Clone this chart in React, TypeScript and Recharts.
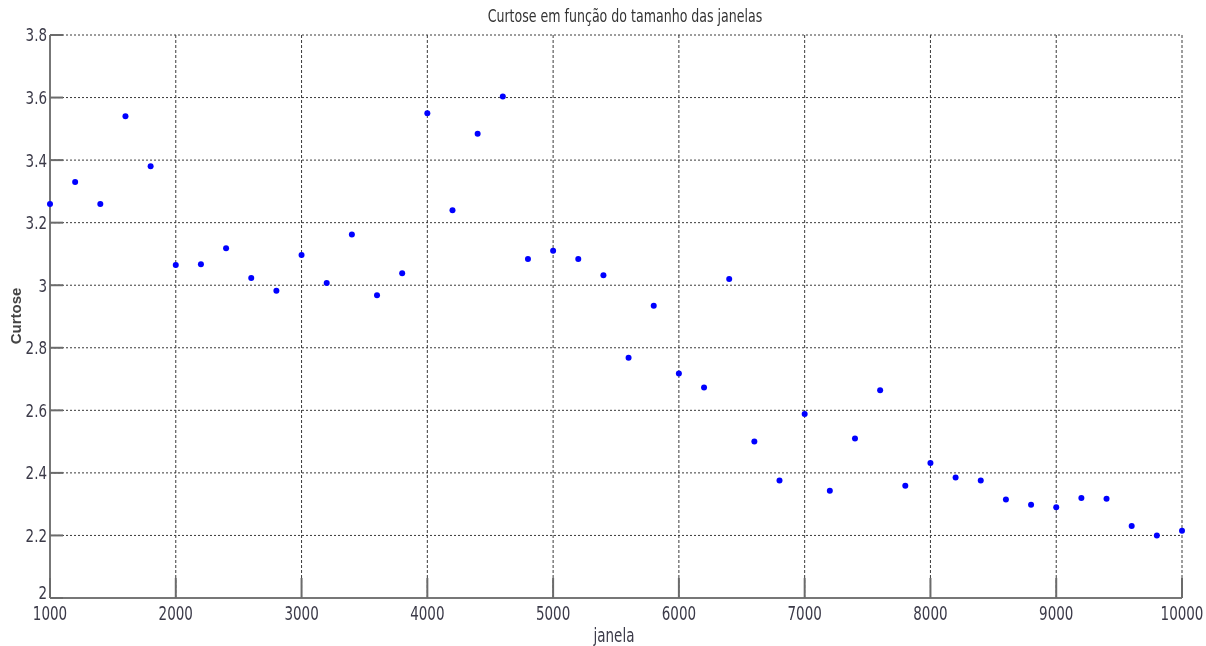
import {
  CartesianGrid,
  Scatter,
  ScatterChart,
  XAxis,
  YAxis,
} from "recharts";

const windowSizes = [
  1000, 1200, 1400, 1600, 1800, 2000, 2200, 2400, 2600, 2800, 3000, 3200,
  3400, 3600, 3800, 4000, 4200, 4400, 4600, 4800, 5000, 5200, 5400, 5600,
  5800, 6000, 6200, 6400, 6600, 6800, 7000, 7200, 7400, 7600, 7800, 8000,
  8200, 8400, 8600, 8800, 9000, 9200, 9400, 9600, 9800, 10000,
];

const kurtosis = [
  3.26, 3.33, 3.26, 3.54, 3.38, 3.065, 3.067, 3.118, 3.023, 2.982, 3.097,
  3.007, 3.162, 2.968, 3.038, 3.55, 3.24, 3.484, 3.603, 3.084, 3.11, 3.084,
  3.032, 2.768, 2.934, 2.718, 2.673, 3.02, 2.5, 2.376, 2.588, 2.343, 2.51,
  2.664, 2.359, 2.432, 2.385, 2.376, 2.315, 2.298, 2.29, 2.32, 2.317, 2.23,
  2.2, 2.215,
];

const xTicks = [1000, 2000, 3000, 4000, 5000, 6000, 7000, 8000, 9000, 10000];
const yTicks = [2, 2.2, 2.4, 2.6, 2.8, 3, 3.2, 3.4, 3.6, 3.8];

const data = windowSizes.map((janela, i) => ({ janela, curtose: kurtosis[i] }));

const narrow = "'Liberation Sans Narrow', 'Arial Narrow', 'DejaVu Sans Condensed', sans-serif";
const textColor = "#3b3a48";

function YTick({ x, y, payload }: any) {
  // the lowest label sits a little higher so it clears the x labels
  const lift = payload.value === yTicks[0] ? 5 : 0;
  return (
    <g>
      <line x1={x} y1={y} x2={x + 13} y2={y} stroke="#6b6b6b" strokeWidth={2} />
      <g transform={`translate(${x - 3},${y - lift}) scale(1,1.2)`}>
        <text x={0} y={0} dy="0.36em" textAnchor="end" fontFamily={narrow} fontSize={15} fill={textColor}>
          {String(payload.value)}
        </text>
      </g>
    </g>
  );
}

function XTick({ x, y, payload }: any) {
  return (
    <g>
      <line x1={x} y1={y} x2={x} y2={y - 20} stroke="#6b6b6b" strokeWidth={2} />
      <g transform={`translate(${x},${y + 15}) scale(1,1.25)`}>
        <text x={0} y={0} dy="0.36em" textAnchor="middle" fontFamily={narrow} fontSize={15} fill={textColor}>
          {String(payload.value)}
        </text>
      </g>
    </g>
  );
}

function Dot({ cx, cy }: any) {
  return <circle cx={cx} cy={cy} r={3} fill="#0000ff" />;
}

export default function App() {
  return (
    <div style={{ position: "fixed", left: 0, top: 0, width: 1206, height: 646, background: "#fff" }}>
      <div
        style={{
          position: "absolute",
          left: 0,
          width: 1206,
          top: 8,
          paddingLeft: 22,
          textAlign: "center",
          fontFamily: narrow,
          fontSize: 14,
          color: "#333",
          transform: "scaleY(1.2)",
        }}
      >
        Curtose em função do tamanho das janelas
      </div>
      <div
        style={{
          position: "absolute",
          left: 15,
          top: 316,
          transform: "translate(-50%, -50%) rotate(-90deg)",
          fontFamily: "'Liberation Sans', Arial, sans-serif",
          fontWeight: "bold",
          fontSize: 15,
          color: "#444",
          whiteSpace: "nowrap",
        }}
      >
        Curtose
      </div>
      <div
        style={{
          position: "absolute",
          left: 614,
          top: 636,
          transform: "translate(-50%, -50%) scaleY(1.25)",
          fontFamily: narrow,
          fontSize: 15,
          color: textColor,
          whiteSpace: "nowrap",
        }}
      >
        janela
      </div>
      <ScatterChart
        width={1206}
        height={646}
        margin={{ top: 35, right: 24, bottom: 0, left: 0 }}
        style={{ position: "absolute", left: 0, top: 0 }}
      >
        <CartesianGrid horizontal={true} vertical={false} stroke="#3a3a3a" strokeDasharray="2 2" />
        <CartesianGrid horizontal={false} vertical={true} stroke="#3a3a3a" strokeDasharray="3 2" />
        <XAxis
          type="number"
          dataKey="janela"
          domain={[1000, 10000]}
          ticks={xTicks}
          height={48}
          tickSize={0}
          tickMargin={0}
          tickLine={false}
          axisLine={{ stroke: "#777", strokeWidth: 2 }}
          tick={<XTick />}
          interval={0}
        />
        <YAxis
          type="number"
          dataKey="curtose"
          domain={[2, 3.8]}
          ticks={yTicks}
          width={50}
          tickSize={0}
          tickMargin={0}
          tickLine={false}
          axisLine={{ stroke: "#777", strokeWidth: 2 }}
          tick={<YTick />}
          interval={0}
        />
        <Scatter data={data} fill="#0000ff" shape={<Dot />} isAnimationActive={false} />
      </ScatterChart>
    </div>
  );
}
